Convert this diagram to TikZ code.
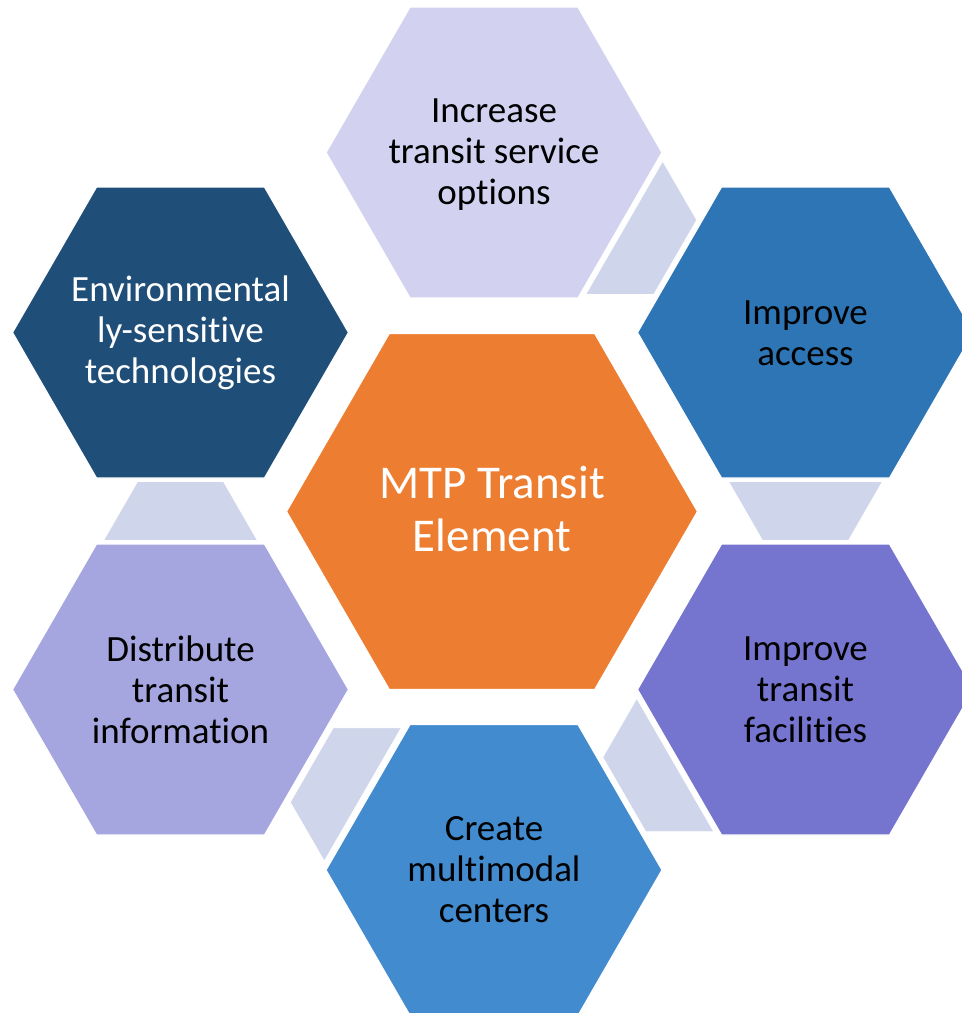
\documentclass[tikz,border=0pt]{standalone}
\usepackage{fontspec}
\setmainfont{Carlito}[Ligatures=NoCommon,RawFeature={-liga;-clig;-dlig}]
\usetikzlibrary{calc}
\definecolor{cCenter}{RGB}{237,125,49}
\definecolor{cTop}{RGB}{210,210,240}
\definecolor{cUR}{RGB}{46,117,182}
\definecolor{cLR}{RGB}{117,117,208}
\definecolor{cBot}{RGB}{66,139,207}
\definecolor{cLL}{RGB}{165,165,224}
\definecolor{cUL}{RGB}{31,78,121}
\definecolor{cConn}{RGB}{207,213,234}
\tikzset{
  hexshape/.style={draw=white, line width=1.2pt, line join=miter},
  conn/.style={fill=cConn, draw=white, line width=0.8pt},
  smalltxt/.style={align=center, inner sep=0pt, font=\fontsize{37}{41}\selectfont},
  bigtxt/.style={align=center, inner sep=0pt, font=\fontsize{47}{53}\selectfont, text=white},
}
\newcommand\hexagonat[4]{%
  \path[hexshape, fill=#4, shift={(#1)}] (0:#2) -- (60:#2) -- (120:#2) -- (180:#2) -- (240:#2) -- (300:#2) -- cycle;
  \node[smalltxt, #3] at (#1) {};}
\newcommand\trapconn[3]{%
  \begin{scope}[shift={($(#1)!0.5!(#2)$)}, rotate=#3]
    \path[conn] (-77,29.5) -- (77,29.5) -- (43,-29.5) -- (-43,-29.5) -- cycle;
  \end{scope}}
\begin{document}
\begin{tikzpicture}[x=1pt,y=1pt]
\useasboundingbox (0,0) rectangle (962,-1013);
\clip (0,0) rectangle (962,-1013);
% hexagon centres
\coordinate (top) at (494,-152.5);
\coordinate (ur) at (805.5,-332.5);
\coordinate (lr) at (805.5,-689.5);
\coordinate (bot) at (494,-870);
\coordinate (ll) at (180.5,-689.5);
\coordinate (ul) at (180.5,-332.5);
\coordinate (ctr) at (492,-511.5);
% hexagons
\path[hexshape, fill=cTop, shift={(top)}] (0:168) -- (60:168) -- (120:168) -- (180:168) -- (240:168) -- (300:168) -- cycle;
\path[hexshape, fill=cUR, shift={(ur)}] (0:168) -- (60:168) -- (120:168) -- (180:168) -- (240:168) -- (300:168) -- cycle;
\path[hexshape, fill=cLR, shift={(lr)}] (0:168) -- (60:168) -- (120:168) -- (180:168) -- (240:168) -- (300:168) -- cycle;
\path[hexshape, fill=cBot, shift={(bot)}] (0:168) -- (60:168) -- (120:168) -- (180:168) -- (240:168) -- (300:168) -- cycle;
\path[hexshape, fill=cLL, shift={(ll)}] (0:168) -- (60:168) -- (120:168) -- (180:168) -- (240:168) -- (300:168) -- cycle;
\path[hexshape, fill=cUL, shift={(ul)}] (0:168) -- (60:168) -- (120:168) -- (180:168) -- (240:168) -- (300:168) -- cycle;
\path[hexshape, fill=cCenter, shift={(ctr)}] (0:205.5) -- (60:205.5) -- (120:205.5) -- (180:205.5) -- (240:205.5) -- (300:205.5) -- cycle;
% texts
\node[smalltxt] (toptxt) at (494,-154.5) {Increase\\transit service\\options};
\node[smalltxt] (urtxt) at (805.5,-333.5) {Improve\\access};
\node[smalltxt] (lrtxt) at (805.5,-689.5) {Improve\\transit\\facilities};
\node[smalltxt] (bottxt) at (494,-870) {Create\\multimodal\\centers};
\node[smalltxt] (lltxt) at (180.5,-689.5) {Distribute\\transit\\information};
\node[smalltxt, text=white] (ultxt) at (180.5,-332.5) {Environmental\\ly-sensitive\\technologies};
\node[bigtxt] (ctrtxt) at (492,-508.5) {MTP Transit\\Element};
% connectors
\trapconn{top}{ur}{60}
\trapconn{ur}{lr}{0}
\trapconn{lr}{bot}{-60}
\trapconn{bot}{ll}{-120}
\trapconn{ll}{ul}{180}
\end{tikzpicture}
\end{document}
